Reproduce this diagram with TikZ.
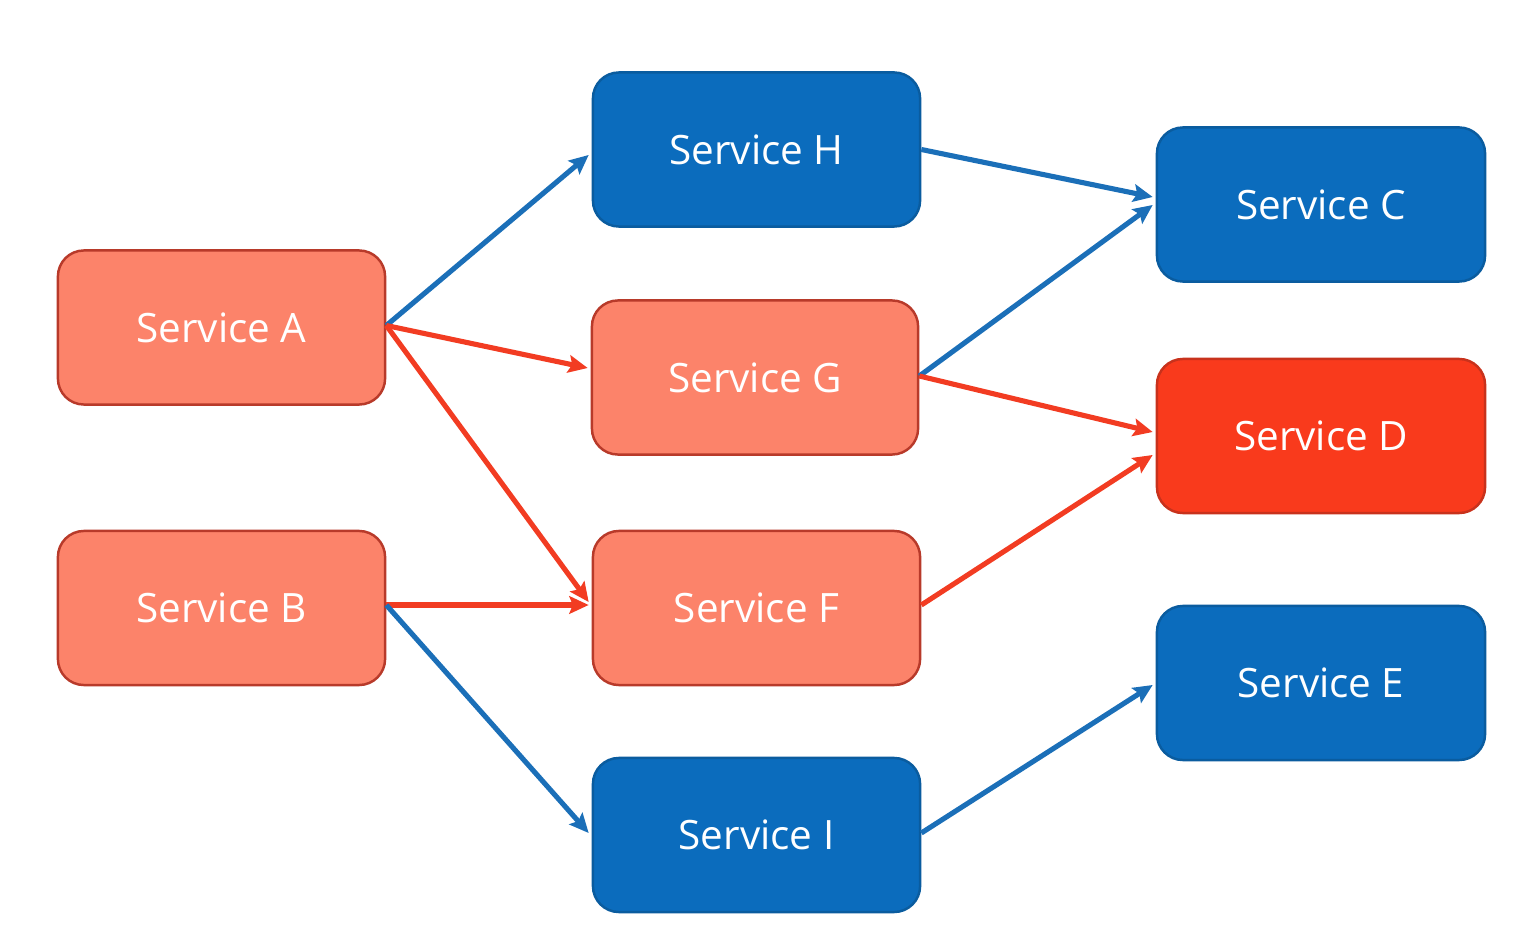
\documentclass[tikz,border=0pt]{standalone}
\usepackage{fontspec}
\setmainfont{Open Sans}
\usetikzlibrary{arrows.meta,calc}
\definecolor{bluefill}{HTML}{0B6CBD}
\definecolor{blueline}{HTML}{0A5C9F}
\definecolor{salmonfill}{HTML}{FC836A}
\definecolor{salmonline}{HTML}{B83A2A}
\definecolor{redfill}{HTML}{F93A1C}
\definecolor{redline}{HTML}{C8321C}
\definecolor{bluearrow}{HTML}{1B6FB8}
\definecolor{redarrow}{HTML}{F23C22}
\begin{document}
\begin{tikzpicture}[x=0.01cm,y=-0.01cm,
  svc/.style={rectangle, rounded corners=0.26cm, minimum width=3.27cm, minimum height=1.54cm,
    line width=0.7pt, text=white, font=\fontsize{11.5}{13}\selectfont, inner sep=0pt},
  bluebox/.style={svc, fill=bluefill, draw=blueline},
  salmonbox/.style={svc, fill=salmonfill, draw=salmonline},
  redbox/.style={svc, fill=redfill, draw=redline},
  link/.style={line width=1.45pt, -{Stealth[length=5.5pt,width=5pt,inset=1pt]}},
  bluelink/.style={link, draw=bluearrow},
  redlink/.style={link, draw=redarrow}]
\useasboundingbox (0,0) rectangle (1519,928);
\node[salmonbox] (A) at (221.5,327.5) {Service A};
\node[salmonbox] (B) at (221.5,608) {Service B};
\node[bluebox] (H) at (756.5,149.5) {Service H};
\node[salmonbox, minimum width=3.26cm] (G) at (755,377.5) {Service G};
\node[salmonbox] (F) at (756.5,608) {Service F};
\node[bluebox] (I) at (756.5,835) {Service I};
\node[bluebox, minimum width=3.28cm] (C) at (1321,204.5) {Service C};
\node[redbox, minimum width=3.28cm] (D) at (1321,436) {Service D};
\node[bluebox, minimum width=3.28cm] (E) at (1321,683) {Service E};

\draw[bluelink] ($(A.east)+(0,-2)$) -- ($(H.west)+(-3,5.5)$);
\draw[redlink] ($(A.east)+(0,-2)$) -- ($(G.west)+(-3,-9.5)$);
\draw[redlink] ($(A.east)+(0,-2)$) -- ($(F.west)+(-3,-6)$);
\draw[redlink] ($(B.east)+(0,-3)$) -- ($(F.west)+(-3,-3)$);
\draw[bluelink] ($(B.east)+(0,-3)$) -- ($(I.west)+(-3,-2)$);
\draw[bluelink] (H.east) -- ($(C.west)+(-3,-7.5)$);
\draw[bluelink] ($(G.east)+(0,-1.5)$) -- ($(C.west)+(-3,0.5)$);
\draw[redlink] ($(G.east)+(0,-1.5)$) -- ($(D.west)+(-3,-4)$);
\draw[redlink] ($(F.east)+(0,-3)$) -- ($(D.west)+(-3,19)$);
\draw[bluelink] ($(I.east)+(0,-2)$) -- ($(E.west)+(-3,2)$);
\end{tikzpicture}
\end{document}
